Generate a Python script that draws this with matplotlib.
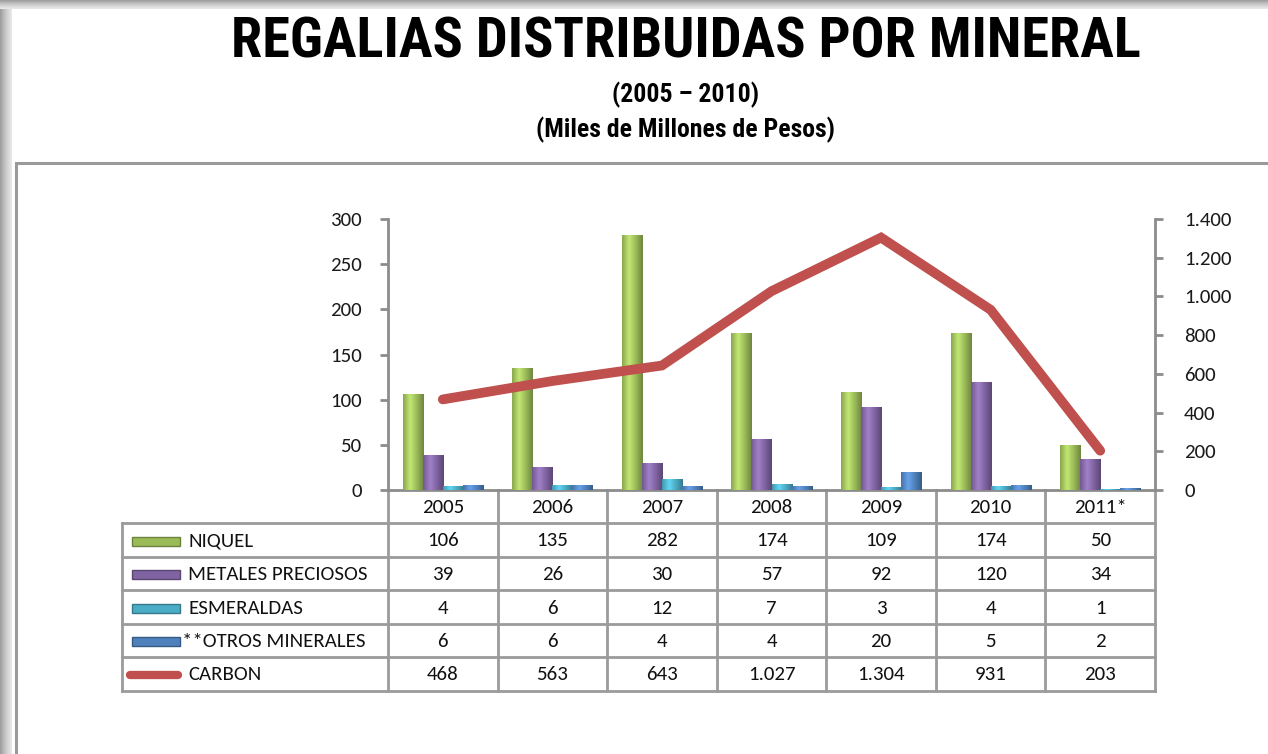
import numpy as np
import matplotlib
matplotlib.use("Agg")
import matplotlib.pyplot as plt
import matplotlib.transforms as mtransforms
from matplotlib.colors import LinearSegmentedColormap, to_rgb
from matplotlib.patches import Rectangle

# ---- data ------------------------------------------------------------------
years = ["2005", "2006", "2007", "2008", "2009", "2010", "2011*"]
niquel = [106, 135, 282, 174, 109, 174, 50]
metales = [39, 26, 30, 57, 92, 120, 34]
esmeraldas = [4, 6, 12, 7, 3, 4, 1]
otros = [6, 6, 4, 4, 20, 5, 2]
carbon = [468, 563, 643, 1027, 1304, 931, 203]

bar_labels = ["NIQUEL", "METALES PRECIOSOS", "ESMERALDAS", "**OTROS MINERALES"]
bar_colors = ["#9BBB59", "#8064A2", "#4BACC6", "#4F81BD"]
line_label = "CARBON"
line_color = "#C0504D"

left_ticks = [0, 50, 100, 150, 200, 250, 300]
right_ticks = [0, 200, 400, 600, 800, 1000, 1200, 1400]

W, H = 1268, 754
TXT = ["Carlito", "Lato", "DejaVu Sans"]
NARROW = ["Liberation Sans Narrow", "Roboto Condensed", "Archivo Narrow", "DejaVu Sans"]
FS = 15


def fmt_es(v):
    return f"{v:,}".replace(",", ".")


def shade_cmap(c):
    r = np.array(to_rgb(c))
    dark = r * 0.72
    light = np.clip(r * 1.18 + 0.04, 0, 1)
    return LinearSegmentedColormap.from_list(
        "s", [r * 0.9, light, r, dark], N=64)


fig = plt.figure(figsize=(W / 100, H / 100), dpi=100)

# background / page frame in pixel coordinates
bg = fig.add_axes([0, 0, 1, 1], zorder=0)
bg.set_xlim(0, W)
bg.set_ylim(H, 0)
bg.axis("off")
grad = np.linspace(0, 1, 32)
bg.imshow(grad[None, :], extent=(0, 12, H, 0), cmap="Greys_r", vmin=-1.6, vmax=1.5,
          aspect="auto")
bg.imshow(grad[:, None], extent=(0, W, 9, 0), cmap="Greys_r", vmin=-1.6, vmax=1.5,
          aspect="auto")
bg.plot([16, 16, W], [H, 163, 163], color="#9a9a9a", lw=2.2, solid_joinstyle="miter")
bg.set_xlim(0, W)
bg.set_ylim(H, 0)

# titles
bg.text(686, 42, "REGALIAS DISTRIBUIDAS POR MINERAL", ha="center", va="center",
        fontsize=40.5, fontweight="bold", family=NARROW, color="black")
bg.text(686, 95, "(2005 \u2013 2010)", ha="center", va="center",
        fontsize=18.5, fontweight="bold", family=NARROW, color="black")
bg.text(686, 130, "(Miles de Millones de Pesos)", ha="center", va="center",
        fontsize=18.5, fontweight="bold", family=NARROW, color="black")

# ---- main axes ---------------------------------------------------------------
ax = fig.add_axes([388 / W, 1 - 490 / H, (1155 - 388) / W, (490 - 219) / H], zorder=1)
ax.patch.set_visible(False)
x = np.arange(len(years))
bw = 0.183
series = [niquel, metales, esmeraldas, otros]
for k, (vals, col) in enumerate(zip(series, bar_colors)):
    bars = ax.bar(x + (k - 1.5) * bw, vals, bw, color=col, edgecolor="none", zorder=2)
    cm = shade_cmap(col)
    for rect in bars:
        x0, w_, h_ = rect.get_x(), rect.get_width(), rect.get_height()
        im = ax.imshow(grad[None, :], extent=(x0, x0 + w_, 0, h_), cmap=cm,
                       aspect="auto", zorder=3)
        im.set_clip_path(rect)

ax.set_xlim(-0.5, len(years) - 0.5)
ax.set_ylim(0, 300)
ax.set_yticks(left_ticks)
ax.set_xticks([])
for s in ["top", "right"]:
    ax.spines[s].set_visible(False)
for s in ["left", "bottom"]:
    ax.spines[s].set_color("#8c8c8c")
    ax.spines[s].set_linewidth(2)
ax.tick_params(axis="y", direction="out", length=6, width=2, color="#8c8c8c",
               pad=13, labelsize=FS, labelcolor="#1a1a1a")
for lab in ax.get_yticklabels():
    lab.set_family(TXT)

ax2 = ax.twinx()
ax2.set_zorder(2)
ax2.plot(x, carbon, color=line_color, lw=7, solid_capstyle="round",
         solid_joinstyle="miter", zorder=5)
ax2.set_ylim(0, 1400)
ax2.set_yticks(right_ticks)
ax2.set_yticklabels([fmt_es(t) for t in right_ticks], family=TXT)
for s in ["top", "left", "bottom"]:
    ax2.spines[s].set_visible(False)
ax2.spines["right"].set_color("#8c8c8c")
ax2.spines["right"].set_linewidth(2)
ax2.tick_params(axis="y", direction="out", length=6, width=2, color="#8c8c8c",
                pad=15, labelsize=FS, labelcolor="#1a1a1a")
ax.set_xlim(-0.5, len(years) - 0.5)

# ---- data table under the chart ----------------------------------------------
tr = mtransforms.blended_transform_factory(ax.transData, bg.transData)
grid_c = "#9b9b9b"
row_y = [490, 523, 557, 590, 624, 657, 691]
lbl_left = 122

for yy in row_y[1:]:
    bg.plot([lbl_left, 1155], [yy, yy], color=grid_c, lw=2, zorder=1)
bg.plot([lbl_left, lbl_left], [row_y[1], row_y[-1]], color=grid_c, lw=2, zorder=1)
for b in np.arange(len(years) + 1) - 0.5:
    bg.plot([b, b], [row_y[0], row_y[-1]], color=grid_c, lw=2, transform=tr, zorder=1)

for i, yr in enumerate(years):
    bg.text(i, (row_y[0] + row_y[1]) / 2 + 1, yr, transform=tr, ha="center",
            va="center", fontsize=FS, family=TXT, color="#111111")

rows = [(lbl, vals, col) for lbl, vals, col in zip(bar_labels, series, bar_colors)]
rows.append((line_label, carbon, line_color))
for r, (lbl, vals, col) in enumerate(rows):
    yc = (row_y[r + 1] + row_y[r + 2]) / 2 + 1
    if r < 4:
        bg.add_patch(Rectangle((132, yc - 4.5), 48, 9, facecolor=col,
                               edgecolor=np.array(to_rgb(col)) * 0.7, lw=1, zorder=2))
    else:
        bg.plot([130, 178], [yc, yc], color=col, lw=6, solid_capstyle="round", zorder=2)
    lx = 182 if lbl.startswith("**") else 188
    bg.text(lx, yc, lbl, ha="left", va="center", fontsize=FS, family=TXT,
            color="#111111")
    for i, v in enumerate(vals):
        bg.text(i, yc, fmt_es(v), transform=tr, ha="center", va="center",
                fontsize=FS, family=TXT, color="#111111")

fig.savefig("out.png", dpi=100)
